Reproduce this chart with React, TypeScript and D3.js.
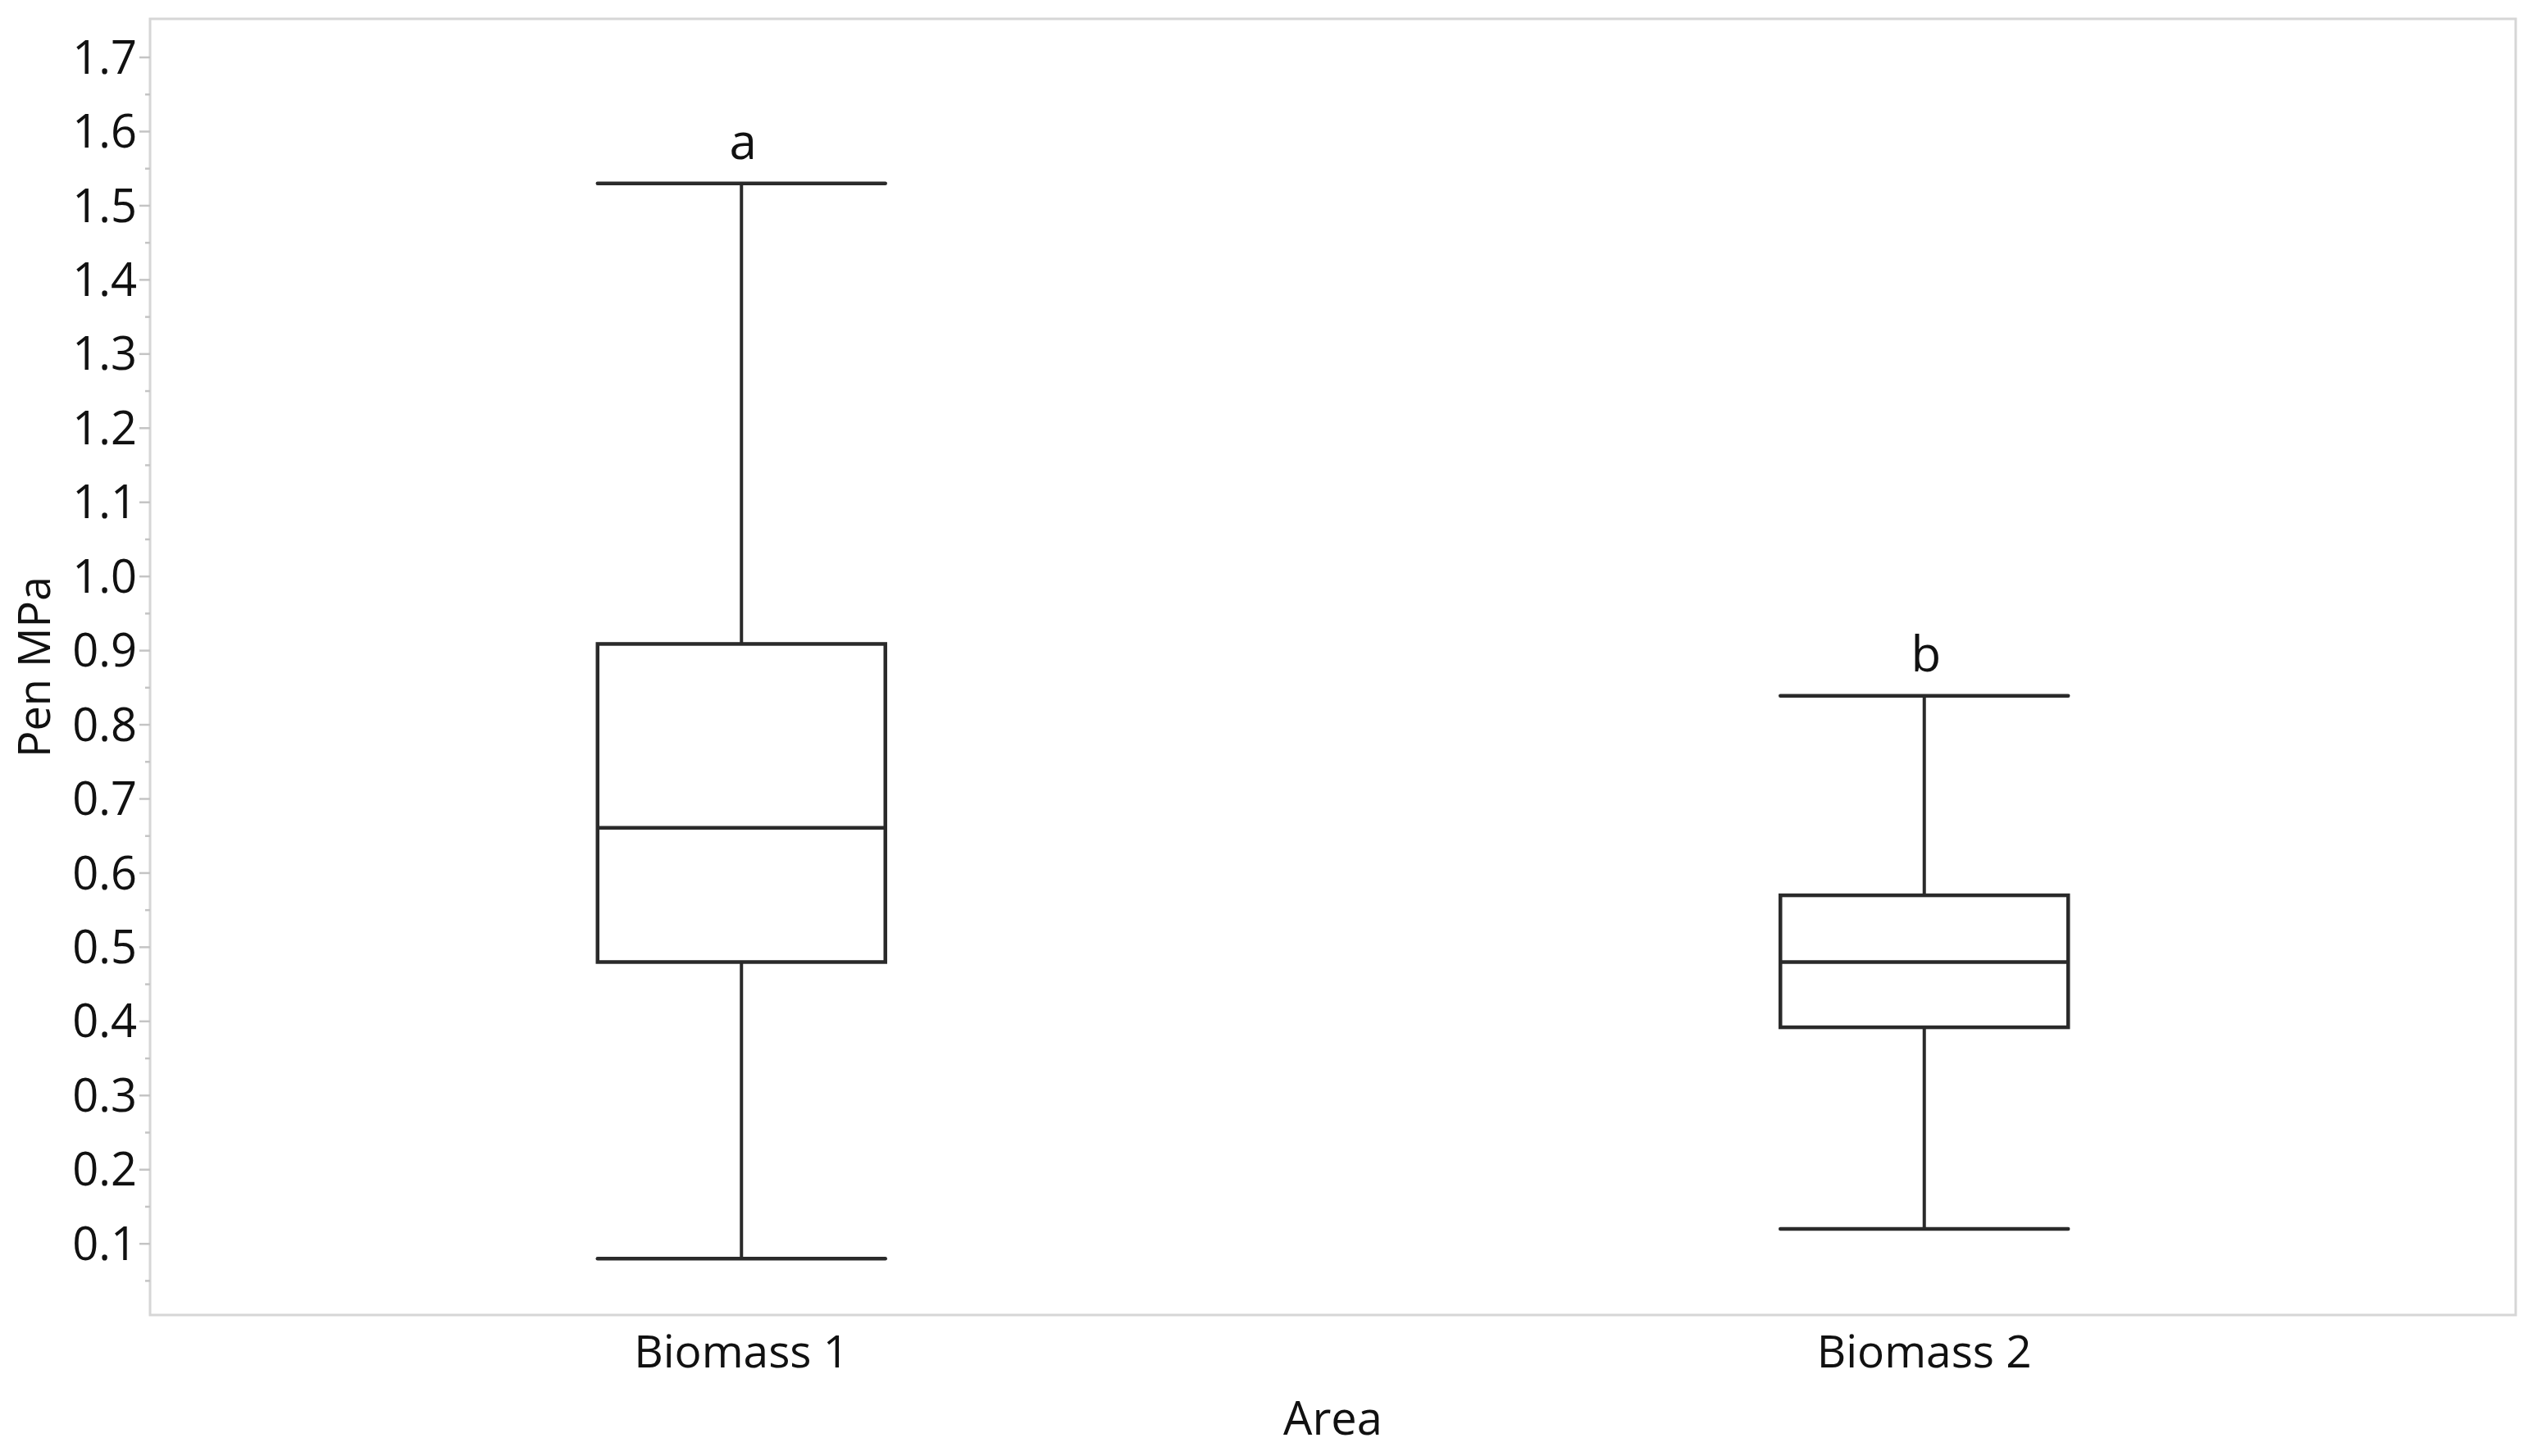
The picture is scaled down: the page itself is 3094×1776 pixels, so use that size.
import React from "react";
import * as d3 from "d3";

const categories = ["Biomass 1", "Biomass 2"];
const whiskerLow = [0.08, 0.12];
const q1 = [0.48, 0.392];
const median = [0.661, 0.48];
const q3 = [0.909, 0.57];
const whiskerHigh = [1.53, 0.839];
const letters = ["a", "b"];
const yTickValues = [0.1, 0.2, 0.3, 0.4, 0.5, 0.6, 0.7, 0.8, 0.9, 1.0, 1.1, 1.2, 1.3, 1.4, 1.5, 1.6, 1.7];
const yLabel = "Pen MPa";
const xLabel = "Area";

const W = 3094;
const H = 1776;
const left = 183, right = 3068, top = 23, bottom = 1604;
const FONT = "'Open Sans', 'Noto Sans', sans-serif";

export default function App() {
  const x = d3.scaleBand<string>().domain(categories).range([left, right]).padding(0);
  const y = d3.scaleLinear().domain([0.004, 1.752]).range([bottom, top]);
  const boxW = x.bandwidth() * 0.2433;
  const minorTicks = d3.range(0.05, 1.75, 0.1);
  const lineColor = "#2a2a2a";

  return (
    <svg width={W} height={H} style={{ position: "absolute", left: 0, top: 0, background: "#fff" }}>
      <rect x={0} y={0} width={W} height={H} fill="#fff" />
      <rect x={left} y={top} width={right - left} height={bottom - top} fill="none" stroke="#d6d6d6" strokeWidth={3} />
      {yTickValues.map((v) => (
        <g key={"t" + v}>
          <line x1={left - 13} x2={left} y1={y(v)} y2={y(v)} stroke="#c4c4c4" strokeWidth={2.5} />
          <text x={left - 16} y={y(v)} dy="0.35em" textAnchor="end" fontFamily={FONT} fontSize={56} fill="#111">
            {v.toFixed(1)}
          </text>
        </g>
      ))}
      {minorTicks.map((v) => (
        <line key={"m" + v} x1={left - 6} x2={left} y1={y(v)} y2={y(v)} stroke="#c4c4c4" strokeWidth={2.5} />
      ))}
      {categories.map((c, i) => {
        const cx = (x(c) as number) + x.bandwidth() / 2;
        return (
          <g key={c}>
            <line x1={cx} x2={cx} y1={y(whiskerHigh[i])} y2={y(q3[i])} stroke={lineColor} strokeWidth={4} />
            <line x1={cx} x2={cx} y1={y(q1[i])} y2={y(whiskerLow[i])} stroke={lineColor} strokeWidth={4} />
            <line x1={cx - boxW / 2} x2={cx + boxW / 2} y1={y(whiskerHigh[i])} y2={y(whiskerHigh[i])} stroke={lineColor} strokeWidth={4.5} strokeLinecap="round" />
            <line x1={cx - boxW / 2} x2={cx + boxW / 2} y1={y(whiskerLow[i])} y2={y(whiskerLow[i])} stroke={lineColor} strokeWidth={4.5} strokeLinecap="round" />
            <rect x={cx - boxW / 2} y={y(q3[i])} width={boxW} height={y(q1[i]) - y(q3[i])} fill="none" stroke={lineColor} strokeWidth={4.5} />
            <line x1={cx - boxW / 2} x2={cx + boxW / 2} y1={y(median[i])} y2={y(median[i])} stroke={lineColor} strokeWidth={4.5} />
            <text x={cx + 2} y={y(whiskerHigh[i]) - 30} textAnchor="middle" fontFamily={FONT} fontSize={60} fill="#111">
              {letters[i]}
            </text>
            <text x={cx} y={1668} textAnchor="middle" fontFamily={FONT} fontSize={55} fill="#111">
              {c}
            </text>
          </g>
        );
      })}
      <text x={(left + right) / 2} y={1750} textAnchor="middle" fontFamily={FONT} fontSize={56} fill="#111">
        {xLabel}
      </text>
      <text transform={`translate(61, ${(top + bottom) / 2}) rotate(-90)`} textAnchor="middle" fontFamily={FONT} fontSize={54} fill="#111">
        {yLabel}
      </text>
    </svg>
  );
}
